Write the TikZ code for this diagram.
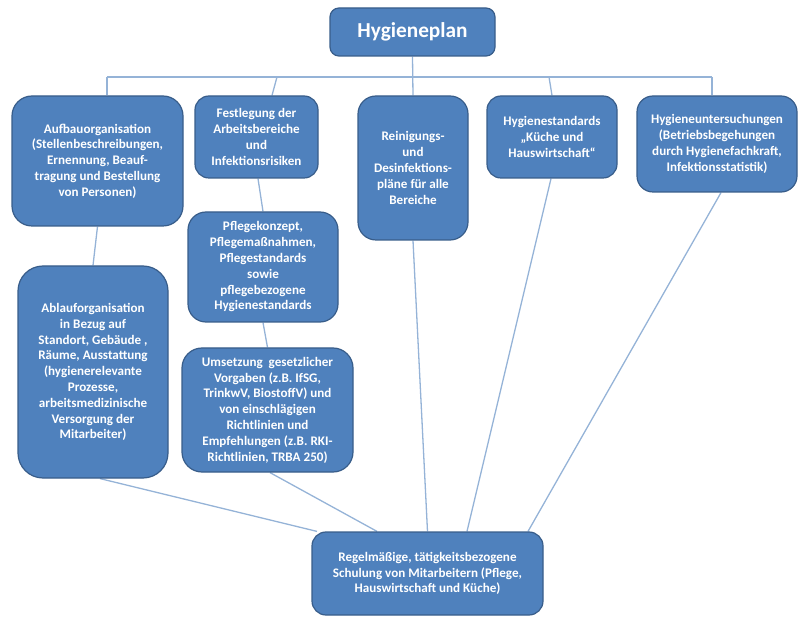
\documentclass[tikz,border=0pt]{standalone}
\usepackage{fontspec}
\setmainfont{Carlito}
\usetikzlibrary{backgrounds}
\definecolor{boxfill}{HTML}{4F81BD}
\definecolor{boxline}{HTML}{385D8A}
\definecolor{conn}{HTML}{95B3D7}
\tikzset{
  box/.style={draw=boxline, line width=1.2pt, fill=boxfill, text=white,
    align=center, inner sep=0pt,
    font=\bfseries\fontsize{13.1}{15.8}\selectfont},
  link/.style={draw=conn, line width=1.3pt}
}
\begin{document}
\begin{tikzpicture}[x=1pt,y=-1pt]
\useasboundingbox (0,0) rectangle (798,617);
\node[box, minimum width=165pt, minimum height=48pt, rounded corners=9pt,
  font=\bfseries\fontsize{21.3}{25}\selectfont] (plan) at (412.5,32) {Hygieneplan};
\node[box, minimum width=171pt, minimum height=130pt, rounded corners=20pt] (aufbau) at (97.5,161)
  {Aufbauorganisation\\(Stellenbeschreibungen,\\Ernennung, Beauf-\\tragung und Bestellung\\von Personen)};
\node[box, minimum width=123pt, minimum height=82pt, rounded corners=14pt] (festl) at (256.5,137)
  {Festlegung der\\Arbeitsbereiche\\und\\Infektionsrisiken};
\node[box, minimum width=110pt, minimum height=144pt, rounded corners=18pt] (rein) at (413,168)
  {Reinigungs-\\und\\Desinfektions-\\pläne für alle\\Bereiche};
\node[box, minimum width=130pt, minimum height=82pt, rounded corners=14pt] (hstd) at (552,137)
  {Hygienestandards\\„Küche und\\Hauswirtschaft“};
\node[box, minimum width=160pt, minimum height=96pt, rounded corners=16pt] (hunt) at (717,144)
  {Hygieneuntersuchungen\\(Betriebsbegehungen\\durch Hygienefachkraft,\\Infektionsstatistik)};
\node[box, minimum width=150pt, minimum height=212pt, rounded corners=25pt] (ablauf) at (93,372)
  {Ablauforganisation\\in Bezug auf\\Standort, Gebäude ,\\Räume, Ausstattung\\(hygienerelevante\\Prozesse,\\arbeitsmedizinische\\Versorgung der\\Mitarbeiter)};
\node[box, minimum width=150pt, minimum height=110pt, rounded corners=18pt] (pflege) at (263,267)
  {Pflegekonzept,\\Pflegemaßnahmen,\\Pflegestandards\\sowie\\pflegebezogene\\Hygienestandards};
\node[box, minimum width=171pt, minimum height=124pt, rounded corners=20pt] (umsetz) at (267.5,410)
  {Umsetzung\ \ gesetzlicher\\Vorgaben (z.B. IfSG,\\TrinkwV, BiostoffV) und\\von einschlägigen\\Richtlinien und\\Empfehlungen (z.B. RKI-\\Richtlinien, TRBA 250)};
\node[box, minimum width=231pt, minimum height=83pt, rounded corners=14pt] (schul) at (427.5,573.5)
  {Regelmäßige, tätigkeitsbezogene\\Schulung von Mitarbeitern (Pflege,\\Hauswirtschaft und Küche)};
\coordinate (b1) at (107,77);
\coordinate (b2) at (277,77);
\coordinate (b3) at (549,77);
\coordinate (b4) at (712,77);
\begin{pgfonlayer}{background}
\draw[link] (b1) -- (b4);
\draw[link] (plan.south) -- (rein.north);
\draw[link] (b1) -- (b1 |- aufbau.north);
\draw[link] (b2) -- ([xshift=15.5pt]festl.north);
\draw[link] (b3) -- (hstd.north);
\draw[link] (b4) -- (b4 |- hunt.north);
\draw[link] (aufbau.south) -- (ablauf.north);
\draw[link] ([xshift=1.5pt]festl.south) -- (pflege.north);
\draw[link] (pflege.south) -- (umsetz.north);
\draw[link] ([xshift=7pt]ablauf.south) -- ([xshift=-110.5pt]schul.north);
\draw[link] ([xshift=2.5pt]umsetz.south) -- ([xshift=-50.5pt]schul.north);
\draw[link] (rein.south) -- (schul.north);
\draw[link] ([xshift=-1pt]hstd.south) -- ([xshift=39.5pt]schul.north);
\draw[link] ([xshift=4pt]hunt.south) -- ([xshift=100.5pt]schul.north);
\end{pgfonlayer}
\end{tikzpicture}
\end{document}
